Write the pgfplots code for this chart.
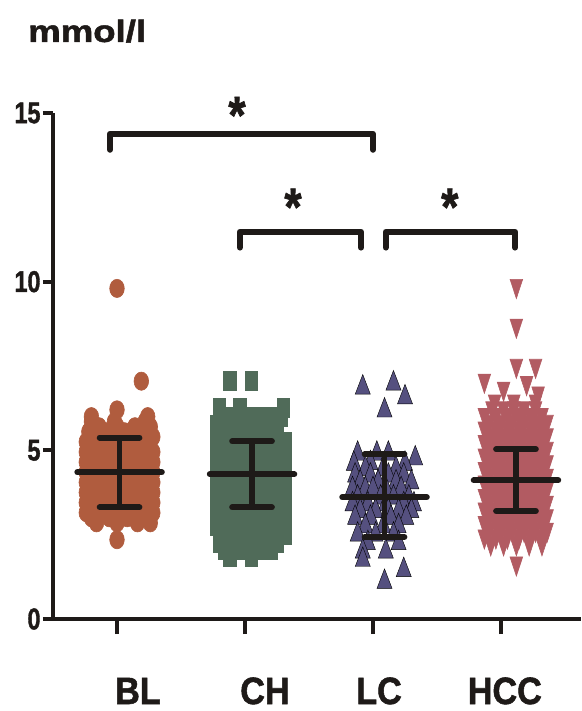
\documentclass[border=0pt]{standalone}
\usepackage{fontspec}
\setmainfont{Liberation Sans}
\newfontfamily\hv[FakeBold=1.5]{Liberation Sans Bold}
\usepackage{pgfplots}
\pgfplotsset{compat=1.18}
\definecolor{BLc}{HTML}{B05C3E}
\definecolor{CHc}{HTML}{506B59}
\definecolor{LCc}{HTML}{55507F}
\definecolor{HCCc}{HTML}{B25B62}
\definecolor{inkc}{HTML}{1E1A18}
\begin{document}
\begin{tikzpicture}
\useasboundingbox (-53pt,-92pt) rectangle (528pt,619pt);
\begin{axis}[
  at={(0pt,0pt)}, anchor=south west,
  scale only axis, width=528pt, height=506pt,
  xmin=0.5, xmax=4.625, ymin=0, ymax=15,
  axis lines=left,
  axis line style={line width=4.5pt, -, color=inkc},
  x axis line style={shorten <=-10pt},
  tick align=outside, major tick length=10pt,
  tick style={line width=4pt, color=inkc},
  x tick style={/pgfplots/major tick length=15pt},
  xtick={1,2,3,4}, xticklabels={},
  ytick={0,5,10,15},
  /pgf/number format/assume math mode=true,
  yticklabel style={font=\fontsize{30}{30}\selectfont\hv, xscale=0.78, inner sep=0pt, xshift=-3pt, text=inkc},
  clip=false,
  clip marker paths=true,
]
% BL
\addplot[only marks, mark=*, mark size=7.3pt, mark options={draw=BLc, line width=0.6pt, fill=BLc, yscale=1.25}] table {
x y
1.00 9.80
1.19 7.05
1.00 6.20
0.80 6.00
1.24 6.00
0.80 5.85
0.98 5.85
1.22 5.85
0.86 5.70
1.00 5.70
1.14 5.70
1.26 5.70
0.78 5.55
0.92 5.55
1.06 5.55
1.20 5.55
0.80 5.40
0.94 5.40
1.08 5.40
1.22 5.40
1.28 5.40
0.76 5.25
0.88 5.25
1.00 5.25
1.14 5.25
1.26 5.25
0.80 5.10
0.94 5.10
1.08 5.10
1.22 5.10
0.76 4.95
0.88 4.95
1.02 4.95
1.16 4.95
1.28 4.95
0.82 4.80
0.96 4.80
1.10 4.80
1.24 4.80
0.76 4.65
0.90 4.65
1.04 4.65
1.18 4.65
1.28 4.65
0.82 4.50
0.96 4.50
1.10 4.50
1.24 4.50
0.76 4.35
0.90 4.35
1.04 4.35
1.18 4.35
1.28 4.35
0.82 4.20
0.96 4.20
1.10 4.20
1.24 4.20
0.76 4.05
0.90 4.05
1.04 4.05
1.18 4.05
1.28 4.05
0.82 3.90
0.96 3.90
1.10 3.90
1.24 3.90
0.76 3.75
0.90 3.75
1.04 3.75
1.18 3.75
1.28 3.75
0.82 3.60
0.96 3.60
1.10 3.60
1.24 3.60
0.76 3.45
0.90 3.45
1.04 3.45
1.18 3.45
1.28 3.45
0.82 3.30
0.96 3.30
1.10 3.30
1.24 3.30
0.76 3.15
0.90 3.15
1.04 3.15
1.18 3.15
1.28 3.15
0.80 3.00
0.94 3.00
1.08 3.00
1.22 3.00
0.84 2.85
1.00 2.85
1.16 2.85
1.26 2.85
1.00 2.35
};
% CH
\addplot[only marks, mark=square*, mark size=6.3pt, mark options={draw=CHc, line width=0.6pt, fill=CHc, yscale=1.5}] table {
x y
1.88 7.05
2.05 7.05
1.80 6.25
1.96 6.25
2.30 6.25
1.80 6.00
1.90 6.00
2.00 6.00
2.10 6.00
2.18 6.00
2.28 6.00
1.78 5.75
1.87 5.75
1.96 5.75
2.05 5.75
2.14 5.75
2.22 5.75
1.80 5.50
1.89 5.50
1.98 5.50
2.07 5.50
2.16 5.50
2.25 5.50
1.78 5.25
1.87 5.25
1.96 5.25
2.05 5.25
2.14 5.25
2.23 5.25
2.31 5.25
1.80 5.00
1.89 5.00
1.98 5.00
2.07 5.00
2.16 5.00
2.25 5.00
2.31 5.00
1.78 4.75
1.87 4.75
1.96 4.75
2.05 4.75
2.14 4.75
2.23 4.75
2.31 4.75
1.80 4.50
1.89 4.50
1.98 4.50
2.07 4.50
2.16 4.50
2.25 4.50
2.31 4.50
1.78 4.25
1.87 4.25
1.96 4.25
2.05 4.25
2.14 4.25
2.23 4.25
2.31 4.25
1.80 4.00
1.89 4.00
1.98 4.00
2.07 4.00
2.16 4.00
2.25 4.00
2.31 4.00
1.78 3.75
1.87 3.75
1.96 3.75
2.05 3.75
2.14 3.75
2.23 3.75
2.31 3.75
1.80 3.50
1.89 3.50
1.98 3.50
2.07 3.50
2.16 3.50
2.25 3.50
2.31 3.50
1.78 3.25
1.87 3.25
1.96 3.25
2.05 3.25
2.14 3.25
2.23 3.25
2.31 3.25
1.80 3.00
1.89 3.00
1.98 3.00
2.07 3.00
2.16 3.00
2.25 3.00
2.31 3.00
1.78 2.75
1.87 2.75
1.96 2.75
2.05 2.75
2.14 2.75
2.23 2.75
2.31 2.75
1.80 2.50
1.89 2.50
1.98 2.50
2.07 2.50
2.16 2.50
2.25 2.50
2.31 2.50
1.80 2.25
1.89 2.25
1.98 2.25
2.07 2.25
2.16 2.25
2.25 2.25
1.84 2.05
1.93 2.05
2.02 2.05
2.11 2.05
2.20 2.05
1.88 1.85
2.05 1.85
};
% LC
\addplot[only marks, mark=triangle*, mark size=8.7pt, mark options={draw=none, fill=LCc, yscale=1.5}] table {
x y
3.16 6.98
2.92 6.86
3.25 6.57
3.09 6.18
2.88 4.90
3.03 4.90
3.12 4.90
3.33 4.76
2.85 4.60
2.98 4.62
3.25 4.60
2.94 4.45
3.08 4.45
3.18 4.45
2.86 4.25
2.98 4.25
3.12 4.25
3.24 4.25
2.90 4.05
3.04 4.05
3.18 4.05
3.30 4.05
2.84 3.85
2.94 3.85
3.00 3.85
3.10 3.85
3.22 3.85
2.88 3.60
3.06 3.60
3.16 3.60
3.28 3.60
2.84 3.40
2.96 3.40
3.10 3.40
3.24 3.40
3.32 3.40
2.90 3.20
3.02 3.20
3.12 3.20
3.20 3.20
3.30 3.20
2.86 3.00
2.98 3.00
3.14 3.00
3.26 3.00
2.94 2.75
3.08 2.75
3.20 2.75
2.88 2.50
3.02 2.50
3.16 2.50
2.96 2.25
3.20 2.25
2.92 2.00
3.10 2.00
2.92 1.75
3.24 1.45
3.09 1.10
};
% HCC
\addplot[only marks, mark=triangle*, mark size=7.3pt, mark options={draw=HCCc, line width=0.6pt, fill=HCCc, rotate=180, yscale=1.75}] table {
x y
4.12 9.88
4.12 8.70
4.12 7.51
4.27 7.51
3.87 7.07
4.20 7.00
4.02 6.83
4.29 6.69
3.95 6.45
4.10 6.45
4.27 6.45
3.93 6.25
4.02 6.25
4.10 6.25
4.18 6.25
4.27 6.25
3.87 6.05
3.96 6.05
4.05 6.05
4.14 6.05
4.23 6.05
4.32 6.05
3.91 5.85
4.00 5.85
4.09 5.85
4.18 5.85
4.27 5.85
4.36 5.85
3.87 5.65
3.96 5.65
4.05 5.65
4.14 5.65
4.23 5.65
4.32 5.65
3.91 5.45
4.00 5.45
4.09 5.45
4.18 5.45
4.27 5.45
4.36 5.45
3.87 5.25
3.96 5.25
4.05 5.25
4.14 5.25
4.23 5.25
4.32 5.25
3.91 5.05
4.00 5.05
4.09 5.05
4.18 5.05
4.27 5.05
4.36 5.05
3.87 4.85
3.96 4.85
4.05 4.85
4.14 4.85
4.23 4.85
4.32 4.85
3.91 4.65
4.00 4.65
4.09 4.65
4.18 4.65
4.27 4.65
4.36 4.65
3.87 4.45
3.96 4.45
4.05 4.45
4.14 4.45
4.23 4.45
4.32 4.45
3.91 4.25
4.00 4.25
4.09 4.25
4.18 4.25
4.27 4.25
4.36 4.25
3.87 4.05
3.96 4.05
4.05 4.05
4.14 4.05
4.23 4.05
4.32 4.05
3.91 3.85
4.00 3.85
4.09 3.85
4.18 3.85
4.27 3.85
4.36 3.85
3.87 3.65
3.96 3.65
4.05 3.65
4.14 3.65
4.23 3.65
4.32 3.65
3.91 3.45
4.00 3.45
4.09 3.45
4.18 3.45
4.27 3.45
4.36 3.45
3.87 3.25
3.96 3.25
4.05 3.25
4.14 3.25
4.23 3.25
4.32 3.25
3.91 3.05
4.00 3.05
4.09 3.05
4.18 3.05
4.27 3.05
4.36 3.05
3.87 2.85
3.96 2.85
4.05 2.85
4.14 2.85
4.23 2.85
4.32 2.85
3.91 2.65
4.00 2.65
4.09 2.65
4.18 2.65
4.27 2.65
4.36 2.65
3.87 2.45
3.96 2.45
4.05 2.45
4.14 2.45
4.23 2.45
4.32 2.45
3.92 2.25
4.02 2.25
4.12 2.25
4.22 2.25
4.32 2.25
4.12 1.65
};
% mean and SD
\pgfplotsset{msd/.style={inkc, line width=6pt, line cap=round}}
\addplot[msd] coordinates {(0.69,4.35) (1.35,4.35)};
\addplot[msd] coordinates {(0.865,5.38) (1.175,5.38)};
\addplot[msd] coordinates {(0.865,3.31) (1.175,3.31)};
\addplot[msd, line cap=butt, line width=5.5pt] coordinates {(1.02,3.31) (1.02,5.38)};
\addplot[msd] coordinates {(1.725,4.29) (2.385,4.29)};
\addplot[msd] coordinates {(1.90,5.27) (2.21,5.27)};
\addplot[msd] coordinates {(1.90,3.31) (2.21,3.31)};
\addplot[msd, line cap=butt, line width=5.5pt] coordinates {(2.055,3.31) (2.055,5.27)};
\addplot[msd] coordinates {(2.76,3.61) (3.42,3.61)};
\addplot[msd] coordinates {(2.935,4.88) (3.245,4.88)};
\addplot[msd] coordinates {(2.935,2.43) (3.245,2.43)};
\addplot[msd, line cap=butt, line width=5.5pt] coordinates {(3.09,2.43) (3.09,4.88)};
\addplot[msd] coordinates {(3.787,4.11) (4.447,4.11)};
\addplot[msd] coordinates {(3.962,5.03) (4.272,5.03)};
\addplot[msd] coordinates {(3.962,3.20) (4.272,3.20)};
\addplot[msd, line cap=butt, line width=5.5pt] coordinates {(4.117,3.20) (4.117,5.03)};
% brackets
\pgfplotsset{brk/.style={inkc, line width=6pt, line cap=round, line join=round}}
\addplot[brk] coordinates {(0.945,13.91) (0.945,14.38) (3.0,14.38) (3.0,13.91)};
\addplot[brk] coordinates {(1.96,11.01) (1.96,11.48) (2.906,11.48) (2.906,11.01)};
\addplot[brk] coordinates {(3.10,11.01) (3.10,11.48) (4.11,11.48) (4.11,11.01)};
% stars
\node[font=\fontsize{44}{44}\selectfont\hv, yscale=1.2, anchor=base, inner sep=0pt, text=inkc] at (axis cs:1.9375,14.40) {*};
\node[font=\fontsize{44}{44}\selectfont\hv, yscale=1.2, anchor=base, inner sep=0pt, text=inkc] at (axis cs:2.375,11.68) {*};
\node[font=\fontsize{44}{44}\selectfont\hv, yscale=1.2, anchor=base, inner sep=0pt, text=inkc] at (axis cs:3.60,11.68) {*};
% category labels
\node[font=\fontsize{38}{38}\selectfont\hv, xscale=0.9, anchor=base, inner sep=0pt, text=inkc, yshift=-85pt] at (axis cs:1.164,0) {BL};
\node[font=\fontsize{38}{38}\selectfont\hv, xscale=0.9, anchor=base, inner sep=0pt, text=inkc, yshift=-85pt] at (axis cs:2.156,0) {CH};
\node[font=\fontsize{38}{38}\selectfont\hv, xscale=0.9, anchor=base, inner sep=0pt, text=inkc, yshift=-85pt] at (axis cs:3.047,0) {LC};
\node[font=\fontsize{38}{38}\selectfont\hv, xscale=0.9, anchor=base, inner sep=0pt, text=inkc, yshift=-85pt] at (axis cs:4.03,0) {HCC};
\end{axis}
\node[anchor=base west, font=\fontsize{31}{31}\selectfont\hv, xscale=1.18, inner sep=0pt, text=inkc] at (-25pt,577pt) {mmol/l};
\end{tikzpicture}
\end{document}
